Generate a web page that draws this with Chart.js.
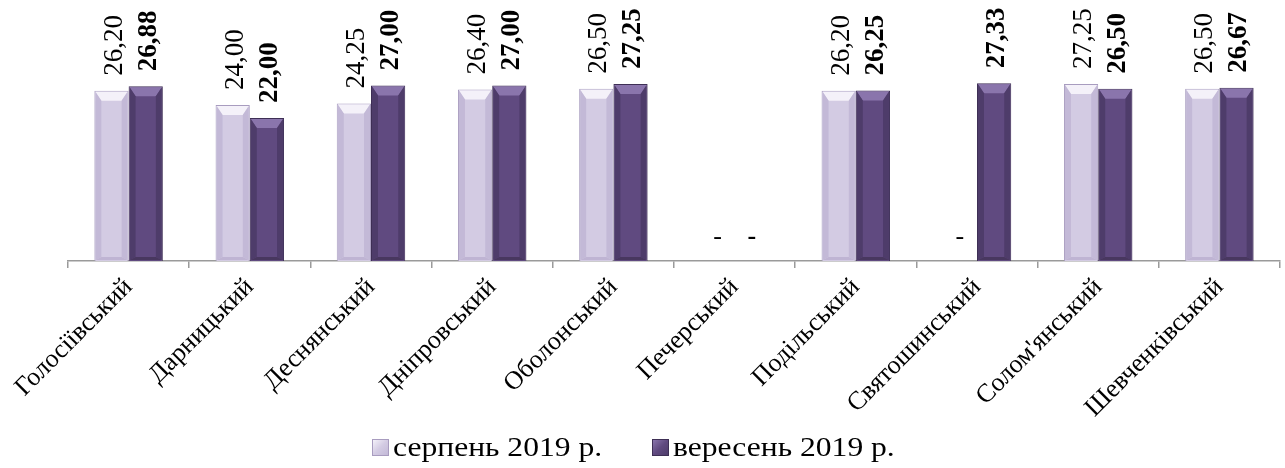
<!DOCTYPE html>
<html lang="uk">
<head>
    <meta charset="UTF-8">
    <title>Середні значення по районах</title>
    <script src="https://cdn.jsdelivr.net/npm/chart.js"></script>
    <style>
        body { margin: 0; background: #fff; }
        #wrap { position: relative; width: 1285px; height: 468px; }
        .legend-item { position: absolute; top: 432px; display: flex; align-items: center;
            font-family: "Liberation Serif", "Times New Roman", serif; font-size: 27px; color: #000; white-space: nowrap; }
        .legend-item .box { width: 17px; height: 17px; margin-right: 4px; box-sizing: border-box; }
        .legend-item .txt { display: inline-block; transform: scaleX(1.17); transform-origin: left center; }
    </style>
</head>
<body>
<div id="wrap">
    <canvas id="chart" width="1285" height="468"></canvas>
    <div id="legend"></div>
</div>
<script>
    const districts = ['Голосіївський', 'Дарницький', 'Деснянський', 'Дніпровський', 'Оболонський',
        'Печерський', 'Подільський', 'Святошинський', "Солом'янський", 'Шевченківський'];
    const seriesLabels = ['серпень 2019 р.', 'вересень 2019 р.'];
    const aug2019 = [26.20, 24.00, 24.25, 26.40, 26.50, null, 26.20, null, 27.25, 26.50];
    const sep2019 = [26.88, 22.00, 27.00, 27.00, 27.25, null, 26.25, 27.33, 26.50, 26.67];

    const palette = [
        { fill: '#D3CBE3', top: '#F4F1F9', side: '#C3B9D7', bottom: '#BFB4D3', border: '#A89CBF' },
        { fill: '#604A80', top: '#8A75AC', side: '#4E3C6A', bottom: '#48375F', border: '#3E2F55' }
    ];

    const fmt = v => v.toFixed(2).replace('.', ',');
    const serif = '"Liberation Serif", "Times New Roman", serif';

    // bevel + value labels drawn over the bars
    const barDecor = {
        id: 'barDecor',
        afterDatasetsDraw(chart) {
            const ctx = chart.ctx;
            const y0 = chart.scales.y.getPixelForValue(0);
            chart.data.datasets.forEach((ds, di) => {
                const meta = chart.getDatasetMeta(di);
                const col = palette[di];
                meta.data.forEach((bar, i) => {
                    const v = ds.data[i];
                    const x = bar.x;
                    ctx.save();
                    ctx.fillStyle = '#000';
                    if (v === null) {
                        ctx.font = (di === 1 ? 'bold ' : '') + '26px ' + serif;
                        ctx.textAlign = 'center';
                        ctx.textBaseline = 'middle';
                        ctx.fillText('-', x, y0 - 24);
                        ctx.restore();
                        return;
                    }
                    const w = bar.width, l = x - w / 2 + 1, r = x + w / 2 - 1, t = bar.y + 1, b = y0 - 1;
                    const d = 6, h = 9;
                    ctx.fillStyle = col.top;
                    ctx.beginPath();
                    ctx.moveTo(l, t); ctx.lineTo(r, t); ctx.lineTo(r - d, t + h); ctx.lineTo(l + d, t + h);
                    ctx.closePath(); ctx.fill();
                    ctx.fillStyle = col.side;
                    ctx.beginPath();
                    ctx.moveTo(l, t); ctx.lineTo(l + d, t + h); ctx.lineTo(l + d, b - 3); ctx.lineTo(l, b);
                    ctx.closePath(); ctx.fill();
                    ctx.beginPath();
                    ctx.moveTo(r, t); ctx.lineTo(r - d, t + h); ctx.lineTo(r - d, b - 3); ctx.lineTo(r, b);
                    ctx.closePath(); ctx.fill();
                    ctx.fillStyle = col.bottom;
                    ctx.beginPath();
                    ctx.moveTo(l, b); ctx.lineTo(l + d, b - 3); ctx.lineTo(r - d, b - 3); ctx.lineTo(r, b);
                    ctx.closePath(); ctx.fill();

                    ctx.fillStyle = '#000';
                    ctx.font = (di === 1 ? 'bold ' : '') + '27px ' + serif;
                    ctx.translate(x + 3, bar.y - 15);
                    ctx.rotate(-Math.PI / 2);
                    ctx.textAlign = 'left';
                    ctx.textBaseline = 'middle';
                    ctx.fillText(fmt(v), 0, 0);
                    ctx.restore();
                });
            });
        }
    };

    const chart = new Chart(document.getElementById('chart'), {
        type: 'bar',
        data: {
            labels: districts,
            datasets: [aug2019, sep2019].map((vals, i) => ({
                label: seriesLabels[i],
                data: vals,
                backgroundColor: palette[i].fill,
                borderColor: palette[i].border,
                borderWidth: 1,
                categoryPercentage: 0.565,
                barPercentage: 1.0
            }))
        },
        options: {
            responsive: false,
            animation: false,
            layout: { padding: { top: 66, left: 68, right: 5, bottom: 0 } },
            plugins: { legend: { display: false }, tooltip: { enabled: false } },
            scales: {
                y: { display: false, min: 0, max: 30 },
                x: {
                    afterFit: s => { s.height = 207; },
                    border: { color: '#9A9A9A', width: 1.5 },
                    grid: { drawOnChartArea: false, drawTicks: true, tickLength: 7, color: '#9A9A9A', lineWidth: 1.5 },
                    ticks: {
                        autoSkip: false, minRotation: 45, maxRotation: 45, padding: 4,
                        color: '#000', font: { family: serif, size: 26 }
                    }
                }
            }
        },
        plugins: [barDecor]
    });

    // legend built from the series
    const legendLeft = [372, 652];
    const legend = document.getElementById('legend');
    seriesLabels.forEach((txt, i) => {
        const item = document.createElement('div');
        item.className = 'legend-item';
        item.style.left = legendLeft[i] + 'px';
        const box = document.createElement('span');
        box.className = 'box';
        box.style.background = 'linear-gradient(135deg, ' + palette[i].top + ', ' + palette[i].fill + ' 50%, ' + palette[i].side + ')';
        box.style.border = '1px solid ' + palette[i].border;
        const label = document.createElement('span');
        label.className = 'txt';
        label.textContent = txt;
        item.appendChild(box);
        item.appendChild(label);
        legend.appendChild(item);
    });
</script>
</body>
</html>
